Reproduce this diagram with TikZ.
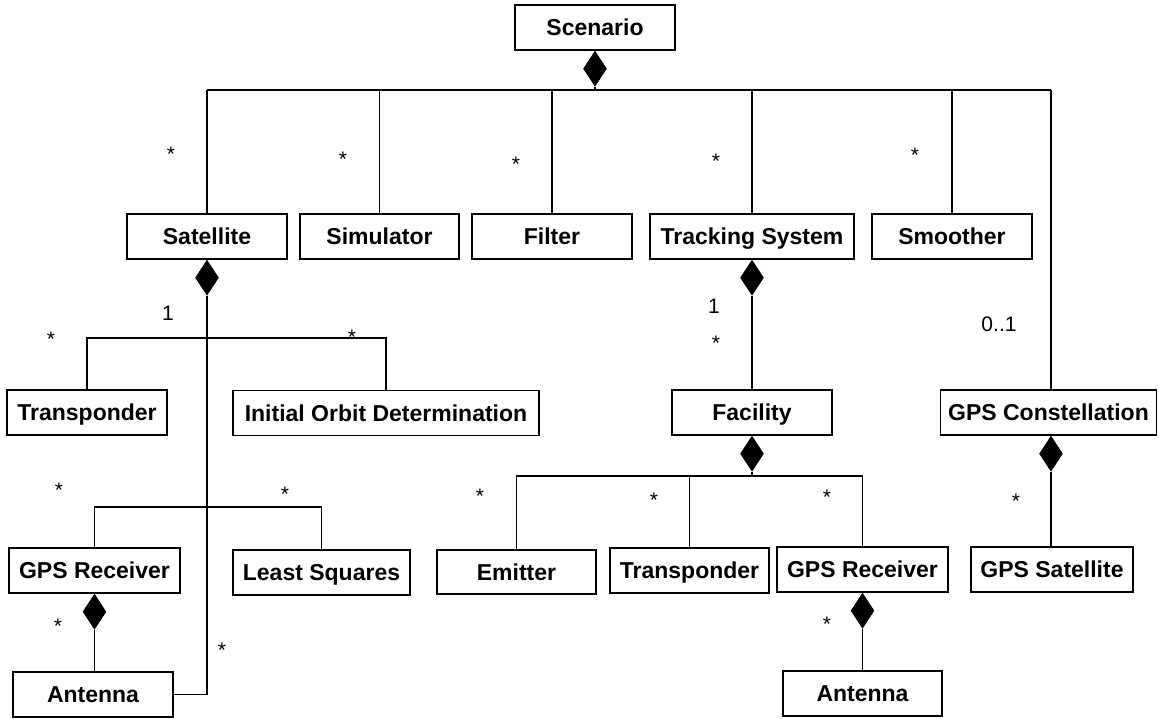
\documentclass[tikz,border=0pt]{standalone}
\usepackage{fontspec}
\setmainfont{Liberation Sans}
\usetikzlibrary{shapes.geometric}
\tikzset{
  box/.style={draw, line width=1.8pt, minimum height=45pt, inner sep=0pt,
    text height=16.5pt, text depth=0pt,
    font=\fontsize{23}{27}\selectfont\bfseries},
  dmd/.style={diamond, fill=black, draw=black, line width=0.6pt, minimum width=23pt,
    minimum height=35pt, inner sep=0pt, anchor=north},
  conn/.style={line width=1.1pt},
  heavy/.style={line width=1.8pt},
  mult/.style={inner sep=0pt, font=\fontsize{21}{25}\selectfont},
}
\begin{document}
\begin{tikzpicture}[x=1pt, y=-1pt]
\useasboundingbox (0,0) rectangle (1159,718);
% boxes
\node[box, minimum width=160pt] (scen) at (595,27.5) {Scenario};
\node[box, minimum width=160pt] (sat) at (207,236.5) {Satellite};
\node[box, minimum width=159pt] (sim) at (379.5,236.5) {Simulator};
\node[box, minimum width=160pt] (filt) at (552,236.5) {Filter};
\node[box, minimum width=204pt] (track) at (752,236.5) {Tracking System};
\node[box, minimum width=160pt] (smooth) at (952,236.5) {Smoother};
\node[box, minimum width=160pt] (trl) at (87,412.5) {Transponder};
\node[box, minimum width=306pt] (iod) at (386,413) {Initial Orbit Determination};
\node[box, minimum width=160pt] (fac) at (752,412.5) {Facility};
\node[box, minimum width=216pt] (gpsc) at (1048.5,412.5) {GPS Constellation};
\node[box, minimum width=171pt] (gpsrl) at (94.5,570.5) {GPS Receiver};
\node[box, minimum width=177pt] (ls) at (321.5,572.5) {Least Squares};
\node[box, minimum width=160pt] (antl) at (93,694.5) {Antenna};
\node[box, minimum width=159pt, minimum height=44pt] (emit) at (516.5,572) {Emitter};
\node[box, minimum width=159pt] (trr) at (689.5,570.5) {Transponder};
\node[box, minimum width=171pt] (gpsrr) at (862.5,569.5) {GPS Receiver};
\node[box, minimum width=162pt] (gpssat) at (1052,569.5) {GPS Satellite};
\node[box, minimum width=159pt] (antr) at (862.5,693.5) {Antenna};
% diamonds
\node[dmd] (sd) at (scen.south) {};
\node[dmd] (satd) at (sat.south) {};
\node[dmd] (tdd) at (track.south) {};
\node[dmd] (fdd) at (fac.south) {};
\node[dmd] (gdl) at (gpsrl.south) {};
\node[dmd] (gdr) at (gpsrr.south) {};
\coordinate (busL) at (207,90);
\coordinate (busR) at (1051,90);
\node[dmd] (gcd) at (busR |- gpsc.south) {};
% scenario bus
\draw[line width=1.6pt] (busL) -- (busR);
\draw[conn] (sd.south) -- (sd.south |- busL);
\draw[conn] (sat.north) -- (sat.north |- busL);
\draw[conn] (sim.north) -- (sim.north |- busL);
\draw[conn] (filt.north) -- (filt.north |- busL);
\draw[conn] (track.north) -- (track.north |- busL);
\draw[conn] (smooth.north) -- (smooth.north |- busL);
\draw[conn] (busR) -- (busR |- gpsc.north);
% satellite tree
\coordinate (j1) at (207,338);
\coordinate (j2) at (207,507);
\draw[heavy] (satd.south) |- (antl.east);
\draw[conn] (trl.north) |- (j1) -| (iod.north);
\draw[conn] (gpsrl.north) |- (j2) -| (ls.north);
\draw[conn] (gdl.south) -- (gdl.south |- antl.north);
% tracking tree
\draw[conn] (tdd.south) -- (fac.north);
\coordinate (j3) at (752,476);
\draw[conn] (fdd.south) -- (j3);
\draw[conn] (emit.north) |- (j3);
\draw[conn] (trr.north) |- (j3);
\draw[conn] (gpsrr.north) |- (j3);
\draw[conn] (gdr.south) -- (antr.north);
\draw[conn] (gcd.south) -- (gcd.south |- gpssat.north);
% multiplicities
\foreach \px/\py [count=\i] in {171/150, 343/155, 516/160, 716/157, 915/151, 51/335, 352/333, 59/486, 285/490, 58/622, 222/646, 716/339, 480/492, 654/496, 827/493, 827/620, 1016/497}
  \node[mult] (star\i) at (\px,\py+4) {*};
\node[mult] (one1) at (168,313) {1};
\node[mult] (one2) at (714,306) {1};
\node[mult] (zo) at (999,324) {0..1};
\end{tikzpicture}
\end{document}
